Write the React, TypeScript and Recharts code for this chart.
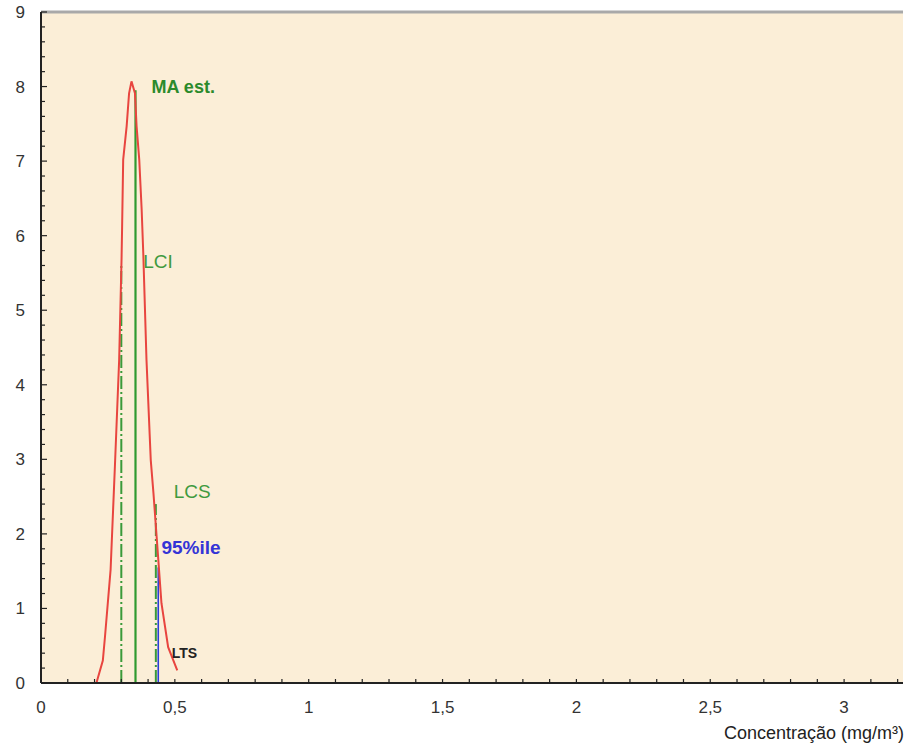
import React from 'react'
import { ComposedChart, Line, XAxis, YAxis, CartesianGrid, ReferenceLine, ReferenceDot, Label } from 'recharts'

// density curve
const curveX = [0, 0.207, 0.231, 0.239, 0.26, 0.276, 0.292, 0.301, 0.303, 0.307, 0.32, 0.329, 0.338, 0.351, 0.357, 0.367, 0.376, 0.382, 0.394, 0.41, 0.42, 0.432, 0.45, 0.475, 0.509]
const curveY = [0, 0, 0.3, 0.62, 1.52, 2.9, 4.34, 5.7, 6.12, 7.02, 7.47, 7.91, 8.07, 7.91, 7.47, 7.02, 6.35, 5.77, 4.34, 2.99, 2.55, 1.96, 1.07, 0.48, 0.17]

// vertical markers: LCI, MA est., LCS, 95%ile
const markerNames = ['LCI', 'MA', 'LCS', 'P95']
const markerX = [0.3, 0.353, 0.429, 0.438]
const markerTop = [5.6, 7.95, 2.4, 1.55]

// annotation texts and where they sit (data coords, left/baseline)
const noteText = ['MA est.', 'LCI', 'LCS', '95%ile', 'LTS']
const noteX = [0.413, 0.382, 0.496, 0.45, 0.488]
const noteY = [7.92, 5.57, 2.48, 1.73, 0.34]

const xMajorTicks = [0, 0.5, 1, 1.5, 2, 2.5, 3]
const xTickLabels = ['0', '0,5', '1', '1,5', '2', '2,5', '3']
const xMinorTicks = Array.from({ length: 33 }, (_, i) => i / 10)
const yMajorTicks = [0, 1, 2, 3, 4, 5, 6, 7, 8, 9]
const yTickLabels = ['0', '1', '2', '3', '4', '5', '6', '7', '8', '9']
const yMinorTicks = Array.from({ length: 46 }, (_, i) => i / 5)

const data = curveX.map((x, i) => ({ x, y: curveY[i] }))

const FONT = '"Liberation Sans", Arial, sans-serif'
const GREEN = '#3a9a3a'

const markerStyle: Record<string, { stroke: string; dash?: string; width: number }> = {
  LCI: { stroke: GREEN, dash: '13 3 2 3', width: 2 },
  MA: { stroke: '#2f9a2f', width: 2.2 },
  LCS: { stroke: GREEN, dash: '13 3 2 3', width: 2 },
  P95: { stroke: '#2a3fd8', width: 1.6 },
}

const noteStyle: Record<string, { fill: string; size: number; weight: number }> = {
  'MA est.': { fill: '#2b8a2b', size: 18, weight: 700 },
  LCI: { fill: '#3f9a3f', size: 19, weight: 400 },
  LCS: { fill: '#3f9a3f', size: 19, weight: 400 },
  '95%ile': { fill: '#3434d6', size: 19, weight: 700 },
  LTS: { fill: '#222', size: 14, weight: 700 },
}

const near = (a: number, b: number) => Math.abs(a - b) < 1e-6

const XTick = (props: any) => {
  const { x, y, payload } = props
  const idx = xMajorTicks.findIndex((v) => near(v, payload.value))
  return (
    <g>
      <line x1={x} x2={x} y1={y} y2={y - 4} stroke="#222" strokeWidth={1.2} />
      {idx >= 0 && (
        <text x={x} y={y + 30} textAnchor="middle" fontFamily={FONT} fontSize={17} fill="#333">
          {xTickLabels[idx]}
        </text>
      )}
    </g>
  )
}

const YTick = (props: any) => {
  const { x, y, payload } = props
  const idx = yMajorTicks.findIndex((v) => near(v, payload.value))
  return (
    <g>
      <line x1={x} x2={x + (idx >= 0 ? 6 : 4)} y1={y} y2={y} stroke="#222" strokeWidth={1.2} />
      {idx >= 0 && (
        <text x={x - 16} y={y + 6} textAnchor="end" fontFamily={FONT} fontSize={17} fill="#333">
          {yTickLabels[idx]}
        </text>
      )}
    </g>
  )
}

const XLabel = (props: any) => {
  const vb = props.viewBox
  return (
    <text x={vb.x + vb.width + 1} y={vb.y + 56} textAnchor="end" fontFamily={FONT} fontSize={18} fill="#222">
      Concentração (mg/m³)
    </text>
  )
}

export default function App() {
  return (
    <div style={{ position: 'absolute', left: 0, top: 0, width: 909, height: 754, background: '#fff' }}>
      <ComposedChart width={909} height={754} data={data} margin={{ top: 12, right: 6, bottom: 0, left: 0 }}>
        <CartesianGrid horizontal={false} vertical={false} fill="#fbeed7" fillOpacity={1} stroke="none" />
        <XAxis
          dataKey="x"
          type="number"
          domain={[0, 3.22]}
          ticks={xMinorTicks}
          interval={0}
          height={71}
          tickSize={0}
          tickMargin={0}
          tickLine={false}
          tick={XTick}
          axisLine={{ stroke: '#222', strokeWidth: 2 }}
        >
          <Label content={XLabel} />
        </XAxis>
        <YAxis
          type="number"
          domain={[0, 9]}
          ticks={yMinorTicks}
          interval={0}
          width={41}
          tickSize={0}
          tickMargin={0}
          tickLine={false}
          tick={YTick}
          axisLine={{ stroke: '#222', strokeWidth: 2 }}
        />
        <ReferenceLine y={9} stroke="#a9a9a9" strokeWidth={3} />
        {markerNames.map((name, i) => (
          <ReferenceLine
            key={name}
            segment={[{ x: markerX[i], y: 0 }, { x: markerX[i], y: markerTop[i] }]}
            stroke={markerStyle[name].stroke}
            strokeWidth={markerStyle[name].width}
            strokeDasharray={markerStyle[name].dash}
          />
        ))}
        <Line
          dataKey="y"
          type="linear"
          stroke="#e8453f"
          strokeWidth={2}
          dot={false}
          activeDot={false}
          isAnimationActive={false}
        />
        {noteText.map((t, i) => (
          <ReferenceDot
            key={t}
            x={noteX[i]}
            y={noteY[i]}
            r={0}
            shape={(p: any) => (
              <text
                x={p.cx}
                y={p.cy}
                fontFamily={FONT}
                fontSize={noteStyle[t].size}
                fontWeight={noteStyle[t].weight}
                fill={noteStyle[t].fill}
              >
                {t}
              </text>
            )}
          />
        ))}
      </ComposedChart>
    </div>
  )
}
